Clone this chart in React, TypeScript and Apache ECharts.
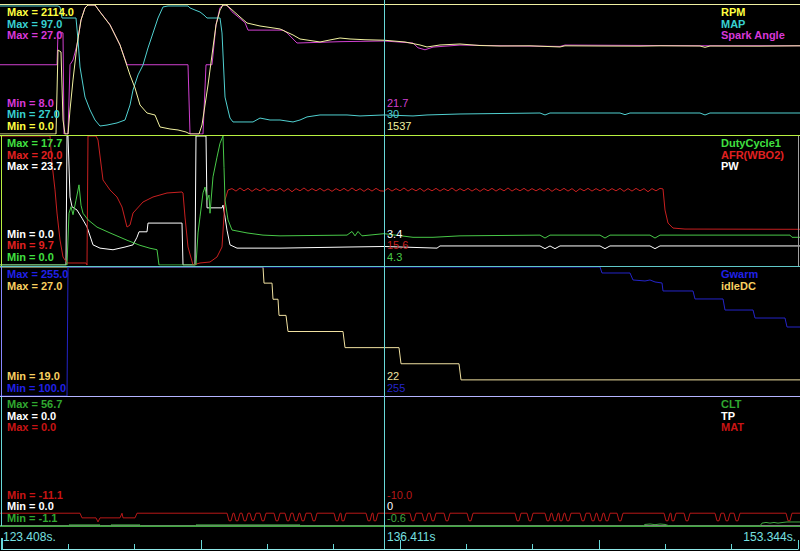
import React, { useEffect, useRef } from "react";
import * as echarts from "echarts";

type Pt = [number, number];

const WIDTH = 800;
const HEIGHT = 551;

// Window of log records shown across the screen, and the cursor record
const RECORD_MIN = 0;
const RECORD_MAX = 800;
const CURSOR_RECORD = 384;
const timeLabels = ["123.408s.", "136.411s", "153.344s."];
const MINOR_DIVISIONS = 12;
const MAJOR_DIVISIONS = 4;

// ---------- Panel 1 ----------
const rpm: Pt[] = [[0,0],[56,0],[58,1377],[61,1344],[63,230],[65,0],[68,0],[70,393],[73,885],[77,1459],[81,1868],[85,2065],[88,2114],[95,2114],[100,2000],[110,1787],[120,1459],[125,1213],[130,967],[135,754],[140,475],[147,344],[155,311],[160,115],[170,82],[178,66],[186,33],[190,0],[199,0],[202,148],[205,475],[208,803],[212,1295],[216,1787],[220,2032],[223,2114],[226,2114],[230,2065],[240,1918],[247,1819],[260,1770],[280,1721],[293,1623],[300,1557],[320,1508],[330,1541],[340,1573],[350,1557],[365,1545],[384,1537],[405,1508],[420,1459],[427,1426],[440,1459],[460,1475],[480,1450],[500,1442],[530,1445],[560,1426],[565,1445],[600,1442],[640,1440],[660,1445],[700,1442],[705,1420],[710,1442],[760,1440],[800,1445]];
const mapKpa: Pt[] = [[0,97],[58,97],[60,96.4],[62,89.6],[76,89.6],[78,76.1],[80,59.5],[83,48.4],[85,41],[90,33.1],[95,26.9],[100,23.2],[107,23.8],[117,25.1],[125,26.9],[130,36.1],[133,45.3],[138,54.6],[143,60.7],[148,71.2],[153,80.4],[158,89.6],[163,96.4],[168,97],[188,97],[190,95.8],[195,94.5],[200,93.3],[204,91.4],[207,89.6],[220,89.6],[222,80.4],[225,41],[228,33.1],[230,28.1],[233,25.7],[253,25.7],[260,28.1],[270,26.9],[280,26.9],[293,25.7],[300,26.9],[307,28.8],[320,30],[347,30],[360,29.4],[384,30],[413,29.4],[427,30],[460,30.6],[540,31.2],[545,30],[550,31.2],[620,31.2],[625,30.2],[630,31.2],[700,31.2],[705,30],[710,31.2],[800,31.2]];
const spark: Pt[] = [[0,18.2],[57,18.2],[58,22.9],[63,22.9],[64,8],[68,8],[70,18.2],[73,18.9],[77,21.1],[81,24.8],[85,26.6],[88,27],[95,27],[100,26],[110,24.1],[120,21.1],[127,18.2],[188,18.2],[190,8],[203,8],[206,18.2],[212,18.2],[216,24.1],[220,26.6],[223,27],[227,27],[232,26],[245,24.4],[248,23.3],[283,23.3],[287,22.9],[297,21.4],[320,21.5],[340,21.6],[384,21.7],[413,21.4],[418,20.7],[425,20.4],[433,20.8],[460,21.1],[500,21.0],[560,20.9],[565,21.1],[700,21.0],[800,21.0]];

// ---------- Panel 2 ----------
const dutyCycle: Pt[] = [[0,0],[67,0],[69,7.1],[71,8],[73,6.9],[76,8.9],[79,11],[81,8.2],[83,7.1],[88,6.2],[97,5.2],[110,4.4],[127,3.4],[140,2.7],[150,2.3],[157,2.1],[159,0],[196,0],[198,4.4],[200,6.6],[203,9.9],[205,10.7],[207,8.9],[209,9.6],[210,7.1],[213,12.1],[217,14.8],[220,16.7],[223,17.7],[224,13.4],[225,8.9],[228,6.2],[232,4.8],[247,4.4],[263,4.1],[280,4.0],[347,4.1],[352,4.6],[355,4.0],[358,4.6],[362,4.0],[384,4.3],[413,3.8],[433,3.8],[460,4.0],[540,4.1],[545,3.7],[550,4.1],[600,4.1],[605,3.7],[610,4.1],[650,4.1],[655,3.7],[660,4.1],[790,4.1],[792,3.8],[800,3.8]];
const afr: Pt[] = [[0,20],[50,20],[52,17.8],[55,15.7],[57,13.85],[60,11.7],[63,10.34],[67,9.86],[86,9.86],[87,9.7],[88,20],[96,20],[98,19.68],[103,16.49],[110,15.69],[117,15.13],[122,14.33],[127,12.73],[130,12.89],[133,13.85],[143,14.73],[153,15.13],[167,15.45],[182,15.53],[183,15.45],[185,13.53],[188,11.14],[193,9.7],[200,9.86],[210,9.94],[217,10.34],[222,11.14],[225,14.89],[228,15.69],
[232,15.8],[236,15.6],[240,15.85],[244,15.62],[248,15.82],[252,15.58],[256,15.8],[260,15.62],[264,15.85],[268,15.6],[272,15.78],[276,15.62],[280,15.82],[284,15.58],[288,15.8],[292,15.55],[296,15.8],[300,15.62],[304,15.85],[308,15.6],[312,15.8],[316,15.62],[320,15.82],[324,15.6],[328,15.78],[332,15.58],[336,15.8],[340,15.62],[344,15.82],[348,15.6],[352,15.85],[356,15.62],[360,15.8],[364,15.58],[368,15.8],[372,15.6],[376,15.82],[380,15.62],[384,15.6],[388,15.82],[392,15.6],[396,15.8],[400,15.62],[404,15.85],[408,15.6],[412,15.8],[416,15.62],[420,15.82],[424,15.58],[428,15.8],[432,15.62],[436,15.82],[440,15.6],[444,15.8],[448,15.62],[452,15.85],[456,15.6],[460,15.8],[464,15.62],[468,15.82],[472,15.6],[476,15.8],[480,15.58],[484,15.8],[488,15.62],[492,15.82],[496,15.6],[500,15.8],[504,15.62],[508,15.85],[512,15.6],[516,15.8],[520,15.62],[524,15.82],[528,15.6],[532,15.8],[536,15.62],[540,15.8],[544,15.6],[548,15.82],[552,15.58],[556,15.8],[560,15.62],[564,15.82],[568,15.6],[572,15.8],[576,15.55],[580,15.8],[584,15.62],[588,15.82],[592,15.6],[596,15.8],[600,15.62],[604,15.82],[608,15.6],[612,15.8],[616,15.62],[620,15.82],[624,15.58],[628,15.8],[632,15.6],[636,15.82],[640,15.62],[644,15.8],[648,15.55],[652,15.8],[656,15.62],[660,15.82],
[663,15.77],[665,14.09],[668,13.05],[673,12.65],[685,12.57],[800,12.55]];
const pw: Pt[] = [[0,0],[66,0],[67,23.7],[68,23.7],[70,12.5],[72,10.7],[77,10.1],[82,8.6],[87,7],[93,3.7],[100,3.1],[113,2.8],[125,3.3],[133,3.7],[137,5.1],[139,6.1],[147,6.1],[148,7.7],[182,7.7],[183,0],[195,0],[196,23.7],[206,23.7],[207,10.5],[222,10.5],[223,11],[225,8.8],[227,6.4],[230,3.7],[237,3.1],[280,3.1],[347,3.3],[384,3.4],[437,3.1],[440,3.5],[540,3.5],[545,3.0],[550,3.5],[555,3.0],[560,3.5],[600,3.5],[605,3.0],[610,3.5],[650,3.5],[655,3.0],[660,3.5],[800,3.5]];

// ---------- Panel 3 ----------
const gwarm: Pt[] = [[0,100],[67,100],[68,255],[600,255],[602,247.8],[630,247.8],[633,239.4],[645,238.2],[650,239.4],[655,237],[662,235.8],[663,226.2],[693,226.2],[695,216.6],[723,216.6],[725,203.3],[753,203.3],[755,193.7],[785,193.7],[787,182.9],[800,182.9]];
const idleDC: Pt[] = [[0,27],[263,27],[264,26],[272,26],[273,25],[278,25],[279,24],[286,24],[288,23],[343,23],[345,22],[399,22],[401,21],[459,21],[461,20],[800,20]];

// ---------- Panel 4 ----------
const clt: Pt[] = [[0,-1.1],[68,-1.1],[69,-0.6],[100,-0.6],[101,-1.1],[110,-1.1],[111,-0.6],[140,-0.6],[141,-1.1],[195,-1.1],[196,-0.6],[300,-0.6],[301,-1.1],[643,-1.1],[645,-0.4],[650,-0.2],[655,-0.5],[660,-0.2],[665,-0.4],[670,-1.1],[760,-1.1],[762,0.2],[766,0.5],[770,0.2],[774,0.5],[778,0.2],[783,0.5],[787,0.7],[800,0.7]];
const tp: Pt[] = [[0,0],[800,0]];
const mat: Pt[] = [[0,-10],[80,-10],[82,-10.4],[96,-10.4],[98,-10.75],[100,-10.4],[120,-10.4],[122,-10],[123,-10.4],[135,-10.4],[137,-10],
[227,-10],[229,-10.65],[231,-10.65],[233,-10],[234,-10],[236,-10.65],[238,-10.65],[240,-10],[242,-10],[244,-10.65],[246,-10.65],[248,-10],[250,-10],[252,-10.6],[254,-10.6],[256,-10],[260,-10],[262,-10.65],[264,-10.65],[266,-10],[274,-10],[276,-10.65],[278,-10.65],[280,-10],[285,-10],[287,-10.65],[289,-10.65],[291,-10],[293,-10],[295,-10.65],[297,-10.65],[299,-10],[300,-10],[302,-10.65],[304,-10.65],[306,-10],[311,-10],[313,-10.65],[315,-10.65],[317,-10],[334,-10],[336,-10.65],[338,-10.65],[340,-10],[341,-10],[342,-10.65],[344,-10.65],[346,-10],[366,-10],[368,-10.65],[370,-10.65],[372,-10],[373,-10],[374,-10.65],[376,-10.65],[378,-10],
[410,-10],[412,-10.65],[414,-10.65],[416,-10],[422,-10],[424,-10.65],[426,-10.65],[428,-10],[430,-10],[432,-10.65],[434,-10.65],[436,-10],[444,-10],[446,-10.65],[448,-10.65],[450,-10],[467,-10],[469,-10.65],[471,-10.65],[473,-10],[515,-10],[517,-10.65],[519,-10.65],[521,-10],[527,-10],[529,-10.65],[531,-10.65],[533,-10],[545,-10],[547,-10.65],[549,-10.65],[551,-10],[552,-10],[554,-10.65],[556,-10.65],[558,-10],[559,-10],[560,-10.65],[562,-10.65],[564,-10],[565,-10],[567,-10.65],[569,-10.65],[571,-10],[580,-10],[582,-10.65],[584,-10.65],[586,-10],[590,-10],[592,-10.65],[594,-10.65],[596,-10],[597,-10],[599,-10.65],[601,-10.65],[603,-10],[604,-10],[606,-10.65],[608,-10.65],[610,-10],[617,-10],[619,-10.65],[621,-10.65],[623,-10],[664,-10],[666,-10.65],[668,-10.65],[670,-10],[671,-10],[672,-10.65],[674,-10.65],[676,-10],[684,-10],[686,-10.65],[688,-10.65],[690,-10],[715,-10],[717,-10.65],[719,-10.65],[721,-10],[724,-10],[726,-10.65],[728,-10.65],[730,-10],[734,-10],[736,-10.65],[738,-10.65],[740,-10],[786,-10],[788,-10.65],[790,-10.65],[792,-10],[800,-10]];

// ---------- Channel names, statistics, cursor read-outs ----------
const panel1Names = ["RPM", "MAP", "Spark Angle"];
const panel1Max = [2114.0, 97.0, 27.0];
const panel1Min = [0.0, 27.0, 8.0];
const panel1Cursor = ["1537", "30", "21.7"];
const panel1Range: Pt[] = [[0, 2114], [18.3, 97.6], [8, 27]];

const panel2Names = ["DutyCycle1", "AFR(WBO2)", "PW"];
const panel2Max = [17.7, 20.0, 23.7];
const panel2Min = [0.0, 9.7, 0.0];
const panel2Cursor = ["4.3", "15.6", "3.4"];
const panel2Range: Pt[] = [[0, 17.7], [9.7, 20.0], [0, 23.7]];

const panel3Names = ["Gwarm", "idleDC"];
const panel3Max = [255.0, 27.0];
const panel3Min = [100.0, 19.0];
const panel3Cursor = ["255", "22"];
const panel3Range: Pt[] = [[100, 255], [19, 27]];

const panel4Names = ["CLT", "TP", "MAT"];
const panel4Max = [56.7, 0.0, 0.0];
const panel4Min = [-1.1, 0.0, -11.1];
const panel4Cursor = ["-0.6", "0", "-10.0"];
const panel4Range: Pt[] = [[-1.1, 56.7], [0, 1], [-11.1, 0]];

// ---------- Styles ----------
const panel1Label = ["#ffff40", "#38d0d0", "#d838d8"];
const panel1Line = ["#f2f2a0", "#50d0d0", "#d040d0"];
const panel2Label = ["#40e040", "#e02020", "#ffffff"];
const panel2Line = ["#48c848", "#c82020", "#ffffff"];
const panel3Label = ["#2020e8", "#f8d060"];
const panel3Line = ["#2424c8", "#f0e0a0"];
const panel4Label = ["#30a830", "#ffffff", "#c81414"];
const panel4Line = ["#40a840", "#ffffff", "#b81818"];

const PANEL_TOPS = [5, 136, 267, 397];
const PANEL_H = 129;
const LEGEND_X = 721;
const ROW = 11.5;
const LABEL_SIZE = 11;
const FONT = "'Liberation Sans', Arial, sans-serif";
const CYAN = "#68d8d8";

const panels = [
  { names: panel1Names, max: panel1Max, min: panel1Min, cursor: panel1Cursor, range: panel1Range, data: [rpm, mapKpa, spark], label: panel1Label, line: panel1Line },
  { names: panel2Names, max: panel2Max, min: panel2Min, cursor: panel2Cursor, range: panel2Range, data: [dutyCycle, afr, pw], label: panel2Label, line: panel2Line },
  { names: panel3Names, max: panel3Max, min: panel3Min, cursor: panel3Cursor, range: panel3Range, data: [gwarm, idleDC], label: panel3Label, line: panel3Line },
  { names: panel4Names, max: panel4Max, min: panel4Min, cursor: panel4Cursor, range: panel4Range, data: [clt, tp, mat], label: panel4Label, line: panel4Line },
];

function hLine(y: number, x1: number, x2: number, color: string) {
  return { type: "line", silent: true, z: 50, shape: { x1, y1: y, x2, y2: y }, style: { stroke: color, lineWidth: 1 } };
}
function vLine(x: number, y1: number, y2: number, color: string, w = 1) {
  return { type: "line", silent: true, z: 50, shape: { x1: x, y1, x2: x, y2 }, style: { stroke: color, lineWidth: w } };
}
function txt(text: string, x: number, y: number, color: string, bold: boolean, size: number, align = "left") {
  return {
    type: "text", silent: true, z: 60, x, y,
    style: { text, fill: color, fontSize: size, fontWeight: bold ? "bold" : "normal", fontFamily: FONT, align, verticalAlign: "middle" },
  };
}

export default function App() {
  const ref = useRef<HTMLDivElement>(null);
  useEffect(() => {
    if (!ref.current) return;
    const chart = echarts.init(ref.current, undefined, { renderer: "svg", width: WIDTH, height: HEIGHT });

    const grid: any[] = PANEL_TOPS.map((top) => ({ left: 0, width: WIDTH, top, height: PANEL_H, show: false }));
    grid.push({ left: 2, width: 796, top: 527, height: 22, show: false });

    const xAxis: any[] = PANEL_TOPS.map((_, i) => ({ type: "value", gridIndex: i, min: RECORD_MIN, max: RECORD_MAX, show: false }));
    const span = 796;
    xAxis.push({
      type: "value", gridIndex: 4, min: 0, max: span, interval: span / MINOR_DIVISIONS, position: "bottom",
      axisLine: { show: true, onZero: false, lineStyle: { color: "#90e8e8", width: 1 } },
      axisTick: { show: true, inside: true, length: 5, lineStyle: { color: CYAN } },
      axisLabel: { show: false }, splitLine: { show: false },
    });
    xAxis.push({
      type: "value", gridIndex: 4, min: 0, max: span, interval: span / MAJOR_DIVISIONS, position: "bottom",
      axisLine: { show: false, onZero: false },
      axisTick: { show: true, inside: true, length: 9, lineStyle: { color: CYAN, width: 1 } },
      axisLabel: { show: false }, splitLine: { show: false },
    });

    const yAxis: any[] = [];
    const series: any[] = [];
    panels.forEach((p, pi) => {
      p.names.forEach((name, ci) => {
        const yi = yAxis.length;
        yAxis.push({ type: "value", gridIndex: pi, min: p.range[ci][0], max: p.range[ci][1], show: false });
        series.push({
          type: "line", name, xAxisIndex: pi, yAxisIndex: yi, data: p.data[ci],
          showSymbol: false, symbol: "none", silent: true, clip: true,
          lineStyle: { color: p.line[ci], width: 1 }, itemStyle: { color: p.line[ci] },
          z: 2 + (p.names.length - ci),
        });
      });
    });
    yAxis.push({ type: "value", gridIndex: 4, min: 0, max: 1, show: false });

    chart.setOption({
      animation: false,
      backgroundColor: "#000000",
      grid, xAxis, yAxis, series,
    });

    const cx = Math.round(chart.convertToPixel({ xAxisIndex: 0 }, CURSOR_RECORD) as number);
    const graphic: any[] = [];
    // panel frames
    graphic.push(hLine(4.5, 0, 800, "#eeeea0"));
    graphic.push(hLine(135.5, 0, 800, "#b8f040"));
    graphic.push(hLine(266.5, 0, 800, "#60c8c8"));
    graphic.push(hLine(396.5, 0, 800, "#b4b4ff"));
    graphic.push(hLine(526.5, 0, 800, "#40a840"));
    graphic.push(vLine(1.5, 136, 266, "#b8f040"));
    graphic.push(vLine(1.5, 267, 396, "#8888ff"));
    graphic.push(vLine(1.5, 397, 526, CYAN));
    graphic.push(vLine(2, 538, 550, CYAN, 2));
    graphic.push(vLine(798.5, 136, 266, "#a0a0a0"));
    // cursor
    graphic.push(vLine(cx + 0.5, 0, 549, CYAN));

    panels.forEach((p, pi) => {
      const top = PANEL_TOPS[pi];
      const bottom = top + PANEL_H;
      p.names.forEach((name, ci) => {
        const yMax = top + 7 + ci * ROW;
        graphic.push(txt(`Max = ${p.max[ci].toFixed(1)}`, 7, yMax, p.label[ci], true, LABEL_SIZE));
        graphic.push(txt(name, LEGEND_X, yMax, p.label[ci], true, LABEL_SIZE));
        const yMin = bottom - 8.5 - ci * ROW;
        graphic.push(txt(`Min = ${p.min[ci].toFixed(1)}`, 7, yMin, p.label[ci], true, LABEL_SIZE));
        graphic.push(txt(p.cursor[ci], cx + 3, yMin, p.line[ci], false, LABEL_SIZE));
      });
    });

    graphic.push(txt(timeLabels[0], 3, 537, "#78e0e0", false, 12));
    graphic.push(txt(timeLabels[1], cx + 3, 537, "#78e0e0", false, 12));
    graphic.push(txt(timeLabels[2], 796, 537, "#78e0e0", false, 12, "right"));

    chart.setOption({ graphic });

    return () => chart.dispose();
  }, []);

  return (
    <div
      ref={ref}
      style={{ position: "fixed", left: 0, top: 0, width: WIDTH, height: HEIGHT, background: "#000" }}
    />
  );
}
